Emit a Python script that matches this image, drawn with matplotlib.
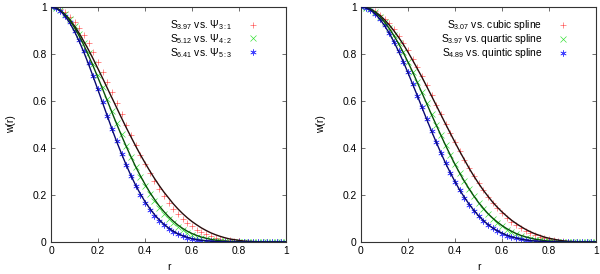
import numpy as np
import matplotlib
matplotlib.use('Agg')
import matplotlib.pyplot as plt

# radius grid shared by every curve
r = np.round(np.arange(0, 1.0001, 0.02), 2)

# left panel: sinc kernels (points) vs Wendland kernels (lines), values x1000
s397 = [1000,997,990,977,959,937,910,879,845,807,767,725,681,637,591,545,500,456,412,371,
        331,293,258,225,194,166,141,119,99,81,66,53,42,33,25,19,14,10,7,5,
        3,2,1,1,0,0,0,0,0,0,0]
s512 = [1000,997,987,970,947,919,885,847,805,759,711,661,610,558,508,458,409,363,319,278,
        240,205,174,146,121,99,80,64,51,39,30,23,17,12,9,6,4,3,2,1,
        1,0,0,0,0,0,0,0,0,0,0]
s641 = [1000,996,983,963,935,900,859,812,762,708,652,595,538,482,428,376,327,281,239,201,
        168,138,112,90,71,55,42,32,24,17,12,9,6,4,3,2,1,1,0,0,
        0,0,0,0,0,0,0,0,0,0,0]
psi31 = [1000,996,985,968,946,919,888,853,817,778,737,696,654,612,570,528,487,448,409,372,
         337,303,271,241,213,188,163,141,121,103,87,73,60,49,39,31,24,18,13,10,
         7,4,3,2,1,0,0,0,0,0,0]
psi42 = [1000,996,985,967,943,912,877,837,793,747,699,650,600,550,501,453,407,363,321,282,
         246,212,182,154,130,108,89,72,58,46,36,28,21,16,11,8,5,4,2,1,
         1,0,0,0,0,0,0,0,0,0,0]
psi53 = [1000,996,983,961,932,896,854,807,756,702,647,591,535,479,426,376,328,283,242,205,
         172,143,117,95,76,60,46,35,27,20,14,10,7,5,3,2,1,1,0,0,
         0,0,0,0,0,0,0,0,0,0,0]

# right panel: sinc kernels (points) vs B-spline kernels (lines), values x1000
s307 = [1000,998,992,982,968,951,930,905,878,848,815,780,743,705,666,626,585,545,504,464,
        425,387,350,315,282,250,220,193,167,144,122,103,86,71,58,46,37,28,22,16,
        12,8,5,3,2,1,1,0,0,0,0]
s489 = [1000,997,987,971,950,922,890,853,812,768,722,673,623,573,523,474,426,380,336,295,
        256,221,188,159,133,110,90,73,58,45,35,27,20,15,11,8,5,3,2,1,
        1,0,0,0,0,0,0,0,0,0,0]
cubic = [1000,998,991,980,965,946,924,899,871,841,808,773,737,700,661,622,582,542,502,463,
         424,386,350,314,281,250,221,195,170,148,128,110,93,79,66,54,44,35,28,21,
         16,12,8,5,3,2,1,0,0,0,0]
quartic = [1000,997,990,977,959,936,909,878,844,806,765,723,678,633,588,542,498,454,411,370,
           330,293,258,226,196,168,144,121,102,85,70,57,46,36,28,22,17,12,9,6,
           4,3,2,1,1,0,0,0,0,0,0]
quintic = [1000,997,987,971,949,921,889,852,811,767,720,671,622,571,521,472,425,379,335,295,
           257,221,190,161,135,112,92,75,60,48,38,29,22,17,12,9,6,4,3,2,
           1,1,0,0,0,0,0,0,0,0,0]

left_pts = [s397, s512, s641]
left_lines = [psi31, psi42, psi53]
left_labels = [r'$S_{3.97}$ vs. $\Psi_{3:1}$', r'$S_{5.12}$ vs. $\Psi_{4:2}$', r'$S_{6.41}$ vs. $\Psi_{5:3}$']
right_pts = [s307, s397, s489]
right_lines = [cubic, quartic, quintic]
right_labels = [r'$S_{3.07}$ vs. cubic spline', r'$S_{3.97}$ vs. quartic spline', r'$S_{4.89}$ vs. quintic spline']

ticks = [0, 0.2, 0.4, 0.6, 0.8, 1]
tick_labels = ['0', '0.2', '0.4', '0.6', '0.8', '1']

plt.rcParams['font.family'] = 'Liberation Sans'
plt.rcParams['mathtext.fontset'] = 'custom'
plt.rcParams['mathtext.rm'] = 'Liberation Sans'
plt.rcParams['mathtext.it'] = 'Liberation Sans'
fs = 7.4

markers = ['+', 'x', (6, 2, 0)]
mcolors = ['#ff5050', '#30e030', '#4040ff']
lcolors = ['#2a0c0c', '#0a500a', '#0a0a70']

fig = plt.figure(figsize=(6, 2.74), dpi=100)
ax1 = fig.add_axes([51/600, 1 - 242/274, 235/600, 235/274])
ax2 = fig.add_axes([361/600, 1 - 242/274, 235/600, 235/274])

for ax, pts, lines, labels in [(ax1, left_pts, left_lines, left_labels),
                               (ax2, right_pts, right_lines, right_labels)]:
    for i in range(3):
        ax.plot(r, np.array(pts[i]) / 1000, linestyle='none', marker=markers[i],
                color=mcolors[i], ms=4.5, mew=0.45, label=labels[i], zorder=2)
    for i in range(3):
        ax.plot(r, np.array(lines[i]) / 1000, color=lcolors[i], lw=1.0, zorder=3)
    ax.set_xlim(0, 1)
    ax.set_ylim(0, 1)
    ax.set_xticks(ticks)
    ax.set_xticklabels(tick_labels)
    ax.set_yticks(ticks)
    ax.set_yticklabels(tick_labels)
    ax.tick_params(direction='in', length=3, width=0.6, top=True, right=True,
                   labelsize=fs, pad=3, color='#555555')
    for sp in ax.spines.values():
        sp.set_linewidth(0.8)
        sp.set_color('#333333')
    ax.set_xlabel('r', fontsize=fs, labelpad=4)
    ax.set_ylabel('w(r)', fontsize=fs, labelpad=12)
    leg = ax.legend(loc='upper right', bbox_to_anchor=(0.903, 0.97), frameon=False,
                    markerfirst=False, fontsize=fs, handlelength=1.2, handletextpad=1.4,
                    labelspacing=0.0, borderpad=0.4, borderaxespad=0)

fig.savefig('out.png', dpi=100)
